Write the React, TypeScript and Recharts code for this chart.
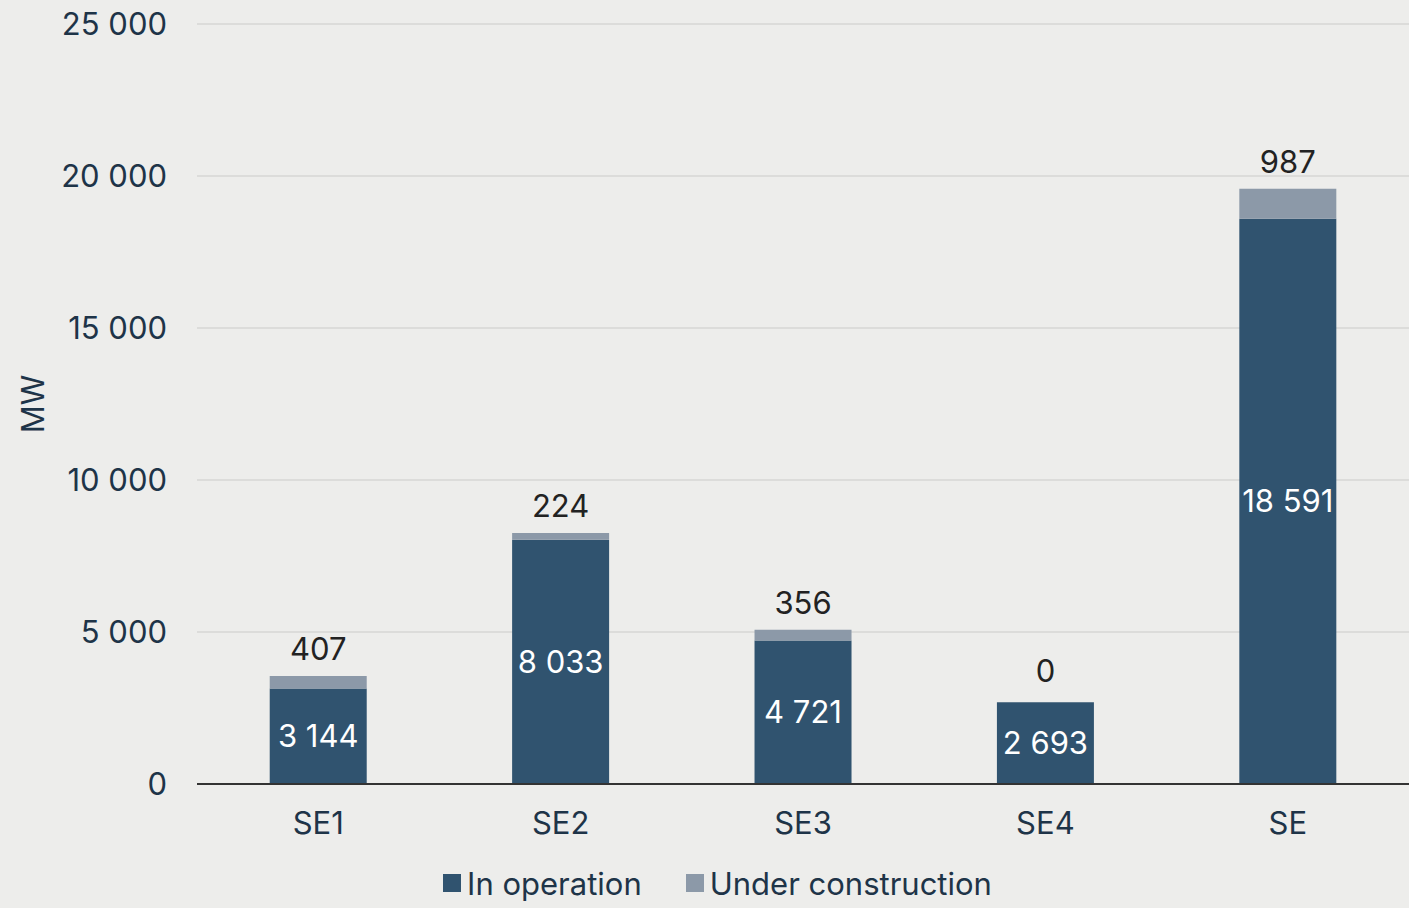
import { Bar, BarChart, CartesianGrid, LabelList, Legend, XAxis, YAxis } from "recharts";

// Installed capacity per bidding zone, MW.

const regions = ["SE1", "SE2", "SE3", "SE4", "SE"];
const inOperation = [3144, 8033, 4721, 2693, 18591];
const underConstruction = [407, 224, 356, 0, 987];
const yTicks = [0, 5000, 10000, 15000, 20000, 25000];

const data = regions.map((region, i) => ({
  region,
  operation: inOperation[i],
  construction: underConstruction[i],
}));

const DARK = "#30536f";
const LIGHT = "#8c99a8";
const TEXT = "#1e3448";
const FONT = "Inter, 'Noto Sans', sans-serif";
const FS = 31;

const fmt = (v: number) => String(v).replace(/\B(?=(\d{3})+(?!\d))/g, " ");

function LegendBox() {
  const items = [
    { label: "In operation", color: DARK },
    { label: "Under construction", color: LIGHT },
  ];
  return (
    <div style={{ display: "flex", justifyContent: "center", gap: 44, fontFamily: FONT, fontSize: FS, color: TEXT, height: 50, alignItems: "center", paddingLeft: 26 }}>
      {items.map((it) => (
        <span key={it.label} style={{ display: "flex", alignItems: "center" }}>
          <span style={{ width: 18, height: 18, background: it.color, marginRight: 6, display: "inline-block" }} />
          {it.label}
        </span>
      ))}
    </div>
  );
}

// label for zero-height segments, drawn above the operation bar
function ZeroLabel(props: any) {
  const { x, y, width, value } = props;
  if (value !== 0) return null;
  return (
    <text x={x + width / 2} y={y - 20} textAnchor="middle" fill="#222" fontSize={FS} fontFamily={FONT}>
      {fmt(value)}
    </text>
  );
}

export default function App() {
  return (
    <div style={{ position: "fixed", left: 0, top: 0, width: 1409, height: 908, background: "#ededeb" }}>
      <BarChart
        width={1409}
        height={908}
        data={data}
        margin={{ top: 24, right: 0, left: 0, bottom: 0 }}
        barCategoryGap="30%"
      >
        <CartesianGrid vertical={false} stroke="#dcdcda" strokeWidth={2} />
        <XAxis
          dataKey="region"
          height={74}
          tickLine={false}
          tickSize={0}
          tickMargin={28}
          axisLine={{ stroke: "#333", strokeWidth: 2 }}
          tick={{ fill: TEXT, fontSize: FS, fontFamily: FONT }}
        />
        <YAxis
          width={197}
          domain={[0, 25000]}
          ticks={yTicks}
          tickFormatter={fmt}
          axisLine={false}
          tickLine={false}
          tickSize={0}
          tickMargin={30}
          tick={{ fill: TEXT, fontSize: FS, fontFamily: FONT }}
          label={{
            content: () => (
              <text x={44} y={404} transform="rotate(-90 44 404)" textAnchor="middle" fill={TEXT} fontSize={FS} fontFamily={FONT}>
                MW
              </text>
            ),
          }}
        />
        <Legend verticalAlign="bottom" height={50} content={() => <LegendBox />} />
        <Bar dataKey="operation" stackId="a" fill={DARK} isAnimationActive={false}>
          <LabelList dataKey="operation" position="center" formatter={(v: any) => fmt(Number(v))} fill="#ffffff" fontSize={FS} fontFamily={FONT} />
          <LabelList dataKey="construction" content={ZeroLabel} />
        </Bar>
        <Bar dataKey="construction" stackId="a" fill={LIGHT} isAnimationActive={false}>
          <LabelList dataKey="construction" position="top" offset={16} formatter={(v: any) => fmt(Number(v))} fill="#222" fontSize={FS} fontFamily={FONT} />
        </Bar>
      </BarChart>
    </div>
  );
}
